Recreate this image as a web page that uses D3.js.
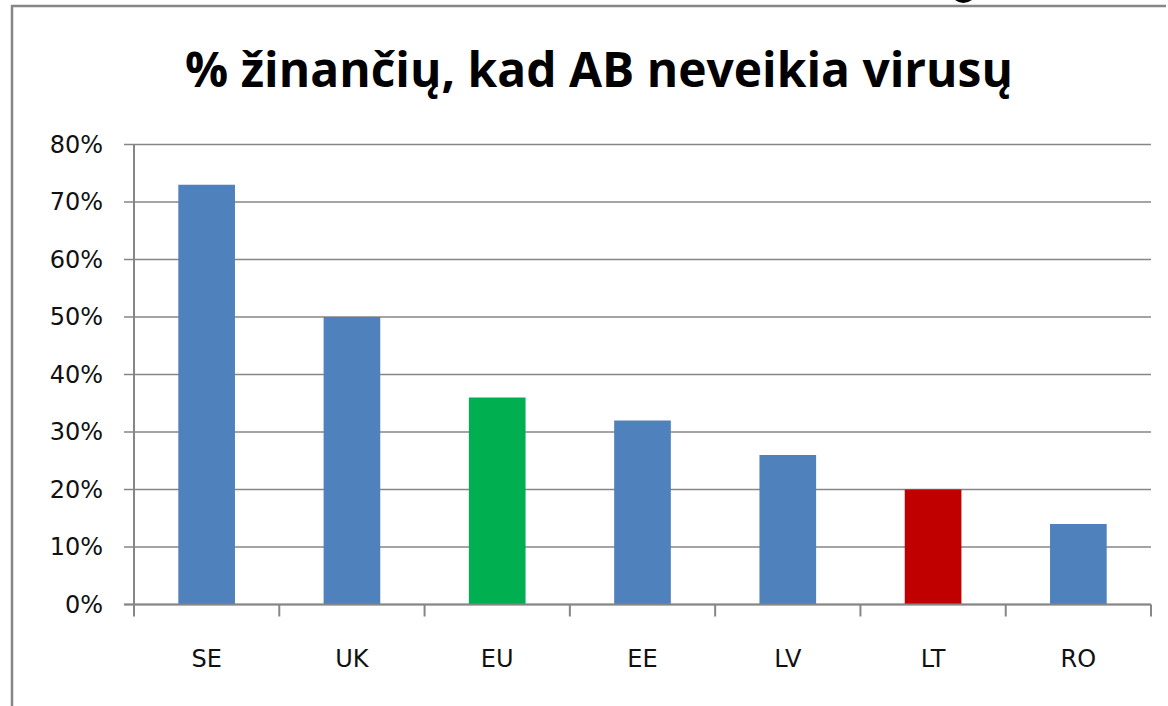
<!DOCTYPE html>
<html>
<head>
<meta charset="utf-8">
<script src="https://cdn.jsdelivr.net/npm/d3@7"></script>
<style>
  body { margin: 0; background: #fff; }
  svg { display: block; }
</style>
</head>
<body>
<svg width="1168" height="706"></svg>
<script>
// data
const countries = ["SE", "UK", "EU", "EE", "LV", "LT", "RO"];
const shares = [73, 50, 36, 32, 26, 20, 14];
const barColors = ["#4f81bd", "#4f81bd", "#00b050", "#4f81bd", "#4f81bd", "#c00000", "#4f81bd"];
const yTicks = [0, 10, 20, 30, 40, 50, 60, 70, 80];
const title = "% žinančių, kad AB neveikia virusų";

const svg = d3.select("svg");
const grey = "#868686";
const font = "'DejaVu Sans', sans-serif";

// plot area
const margin = {left: 134, right: 1151, top: 144.5, bottom: 604.5};

const x = d3.scaleBand()
  .domain(countries)
  .range([margin.left, margin.right])
  .paddingInner(0.61)
  .paddingOuter(0.305);

const y = d3.scaleLinear()
  .domain([0, 80])
  .range([margin.bottom, margin.top]);

// outer frame (left + top edge only, the rest is cut off)
svg.append("path")
  .attr("d", "M12,706 V6 H1166")
  .attr("fill", "none")
  .attr("stroke", grey)
  .attr("stroke-width", 2.5);

// bottom of a glyph from the line above, cut off by the crop
svg.append("path")
  .attr("d", "M955,0 Q963,6 972,0 Z")
  .attr("fill", "#000");

// gridlines
svg.append("g")
  .selectAll("line")
  .data(yTicks)
  .join("line")
    .attr("x1", margin.left - 10)
    .attr("x2", margin.right)
    .attr("y1", d => y(d))
    .attr("y2", d => y(d))
    .attr("stroke", grey)
    .attr("stroke-width", 1.5);

// y axis labels
const yAxis = svg.append("g")
  .attr("transform", `translate(${margin.left},0)`)
  .call(d3.axisLeft(y).tickValues(yTicks).tickFormat(d => d + "%").tickSize(0).tickPadding(31));
yAxis.select(".domain").remove();
yAxis.selectAll("text")
  .style("font", `24px ${font}`)
  .attr("fill", "#111");

// bars
svg.append("g")
  .selectAll("rect")
  .data(countries)
  .join("rect")
    .attr("x", d => x(d))
    .attr("y", (d, i) => y(shares[i]))
    .attr("width", x.bandwidth())
    .attr("height", (d, i) => y(0) - y(shares[i]))
    .attr("fill", (d, i) => barColors[i]);

// vertical axis line
svg.append("line")
  .attr("x1", margin.left).attr("x2", margin.left)
  .attr("y1", margin.top).attr("y2", margin.bottom)
  .attr("stroke", grey).attr("stroke-width", 2);

// category axis: line, boundary ticks, labels
const step = x.step();
const bounds = d3.range(countries.length + 1).map(i => margin.left + i * step);
svg.append("line")
  .attr("x1", margin.left - 10).attr("x2", margin.right)
  .attr("y1", margin.bottom).attr("y2", margin.bottom)
  .attr("stroke", grey).attr("stroke-width", 2);
svg.append("g")
  .selectAll("line")
  .data(bounds)
  .join("line")
    .attr("x1", d => d).attr("x2", d => d)
    .attr("y1", margin.bottom).attr("y2", margin.bottom + 12)
    .attr("stroke", grey).attr("stroke-width", 2);
svg.append("g")
  .selectAll("text")
  .data(countries)
  .join("text")
    .attr("x", d => x(d) + x.bandwidth() / 2)
    .attr("y", 667)
    .attr("text-anchor", "middle")
    .style("font", `24px ${font}`)
    .attr("fill", "#111")
    .text(d => d);

// title, fitted to the width it has in the picture
const t = svg.append("text")
  .attr("x", 599)
  .attr("y", 87)
  .attr("text-anchor", "middle")
  .style("font", `bold 40px 'Open Sans', sans-serif`)
  .text(title);
const w = t.node().getComputedTextLength();
t.style("font-size", (40 * 828 / w) + "px");
</script>
</body>
</html>
